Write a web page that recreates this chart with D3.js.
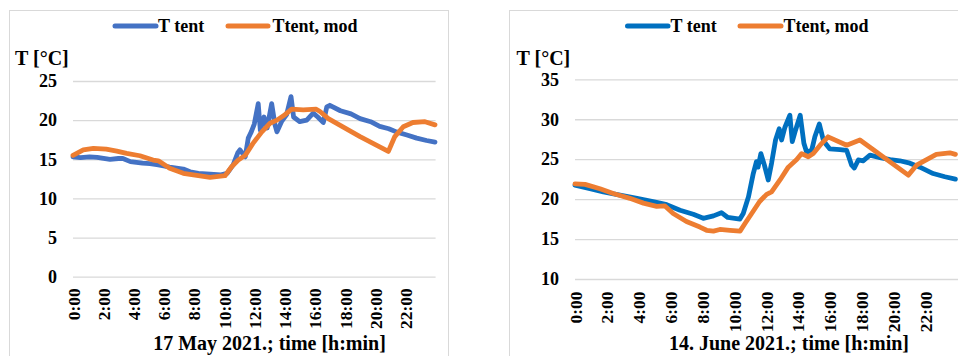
<!DOCTYPE html>
<html>
<head>
<meta charset="utf-8">
<script src="https://cdn.jsdelivr.net/npm/d3@7"></script>
<style>
  html, body { margin: 0; padding: 0; background: #ffffff; }
  svg { display: block; font-family: "Liberation Serif", "Times New Roman", serif; font-weight: bold; }
</style>
</head>
<body>
<svg id="chart" width="958" height="356"></svg>
<script>
// Time axis labels (every two hours) shared by both panels
const timeTicks = ["0:00", "2:00", "4:00", "6:00", "8:00", "10:00", "12:00", "14:00", "16:00", "18:00", "20:00", "22:00"];
const seriesNames = ["T tent", "Ttent, mod"];

// 17 May 2021 — measured tent temperature (hours, °C)
const mayTentHours = [0, 0.5, 1.1, 1.6, 2.45, 3.0, 3.3, 3.8, 4.6, 5.1, 5.55, 6.0, 6.4, 7.3, 7.75, 8.3, 9.07, 9.8, 10.2, 10.6, 10.9, 11.05, 11.4, 11.6, 11.8, 12.0, 12.26, 12.4, 12.64, 12.85, 13.15, 13.37, 13.5, 13.8, 14.14, 14.43, 14.6, 15.0, 15.47, 15.9, 16.2, 16.57, 16.8, 17.0, 17.7, 18.4, 19.0, 19.7, 20.3, 20.9, 21.4, 22.1, 22.75, 23.4, 23.96];
const mayTent = [15.3, 15.2, 15.3, 15.25, 15.0, 15.1, 15.1, 14.7, 14.5, 14.45, 14.3, 14.15, 14.0, 13.75, 13.4, 13.2, 13.1, 13.0, 13.2, 14.3, 15.8, 16.2, 15.3, 17.7, 18.5, 19.5, 22.1, 18.7, 20.4, 19.0, 22.1, 19.4, 18.5, 19.8, 20.7, 23.0, 20.4, 19.8, 20.0, 20.9, 20.4, 19.7, 21.7, 21.9, 21.2, 20.8, 20.2, 19.8, 19.2, 18.9, 18.5, 18.1, 17.7, 17.4, 17.2];

// 17 May 2021 — modelled tent temperature
const mayModHours = [0, 0.68, 1.35, 2.2, 2.9, 3.55, 4.43, 5.3, 5.65, 6.4, 7.3, 8.3, 9.07, 10.06, 10.5, 10.94, 11.4, 11.9, 12.5, 13.04, 13.5, 14.03, 14.47, 15.24, 16.1, 16.35, 16.9, 19.0, 20.87, 21.3, 21.86, 22.5, 23.3, 23.96];
const mayMod = [15.5, 16.2, 16.4, 16.3, 16.05, 15.75, 15.45, 14.9, 14.8, 13.85, 13.2, 12.9, 12.7, 12.9, 14.05, 14.9, 15.5, 17.0, 18.5, 19.6, 20.0, 20.7, 21.4, 21.3, 21.4, 21.1, 20.2, 17.9, 16.0, 17.9, 19.15, 19.7, 19.8, 19.4];

// 14 June 2021 — measured tent temperature
const junTentHours = [0, 0.94, 1.78, 2.83, 3.9, 4.9, 5.76, 6.6, 7.43, 8.06, 8.7, 9.2, 9.6, 10.36, 10.57, 10.9, 11.2, 11.4, 11.5, 11.68, 11.9, 12.14, 12.35, 12.6, 12.83, 12.98, 13.19, 13.5, 13.65, 13.85, 14.15, 14.38, 14.55, 14.87, 15.07, 15.35, 15.6, 15.8, 16.0, 16.65, 17.07, 17.38, 17.55, 17.8, 18.1, 18.53, 19.16, 19.8, 20.4, 21.04, 21.67, 22.5, 23.24, 23.9];
const junTent = [21.75, 21.3, 20.9, 20.5, 20.1, 19.7, 19.3, 18.6, 18.1, 17.6, 17.9, 18.3, 17.7, 17.5, 18.2, 20.3, 23.2, 24.7, 24.0, 25.7, 24.25, 22.4, 24.5, 27.4, 28.8, 27.4, 29.0, 30.5, 27.2, 28.6, 30.5, 27.0, 25.9, 26.1, 27.8, 29.4, 27.4, 26.8, 26.3, 26.2, 26.1, 24.25, 23.9, 24.9, 24.8, 25.5, 25.2, 24.95, 24.8, 24.5, 24.0, 23.2, 22.8, 22.5];

// 14 June 2021 — modelled tent temperature
const junModHours = [0, 0.63, 1.57, 2.4, 3.45, 4.3, 5.13, 5.65, 6.17, 7.0, 7.85, 8.27, 8.7, 9.1, 9.74, 10.37, 10.68, 11.1, 11.6, 12.04, 12.35, 12.88, 13.4, 13.93, 14.24, 14.66, 14.97, 15.4, 15.9, 17.07, 17.9, 20.94, 21.46, 22.7, 23.55, 23.9];
const junMod = [21.9, 21.85, 21.3, 20.7, 20.1, 19.5, 19.1, 19.15, 18.2, 17.2, 16.5, 16.1, 16.0, 16.2, 16.1, 16.0, 16.95, 18.2, 19.7, 20.6, 20.9, 22.4, 24.0, 24.95, 25.7, 25.3, 25.7, 26.75, 27.8, 26.75, 27.4, 23.0, 24.25, 25.6, 25.8, 25.6];

const svg = d3.select("#chart");

function toHours(label) {
  const [h, m] = label.split(":").map(Number);
  return h + m / 60;
}

function pairs(hours, values) {
  return hours.map((h, i) => ({ h: h, v: values[i] }));
}

function drawPanel(p) {
  const g = svg.append("g");

  // chart frame
  g.append("rect")
    .attr("x", p.frame[0] + 0.5).attr("y", p.frame[1] + 0.5)
    .attr("width", p.frame[2]).attr("height", p.frame[3])
    .attr("fill", "none").attr("stroke", "#d9d9d9").attr("stroke-width", 1);

  const x = d3.scaleLinear().domain([0, 24]).range([p.left, p.right]);
  const y = d3.scaleLinear().domain(p.yDomain).range([p.bottom, p.top]);

  // horizontal gridlines with value labels
  const yAxis = d3.axisLeft(y).tickValues(d3.range(p.yDomain[0], p.yDomain[1] + 1, 5))
    .tickSize(-(p.gridRight - p.left)).tickPadding(p.left - p.yLabelRight);
  const ya = g.append("g").attr("transform", `translate(${p.left},0)`).call(yAxis);
  ya.select(".domain").remove();
  ya.selectAll(".tick line").attr("stroke", "#d9d9d9").attr("stroke-width", 1.3);
  ya.selectAll(".tick text")
    .attr("font-family", "Liberation Serif, Times New Roman, serif")
    .attr("font-weight", "bold").attr("font-size", 18).attr("fill", "#000");

  // time labels, rotated
  const xAxis = d3.axisBottom(x).tickValues(timeTicks.map(toHours))
    .tickFormat((d, i) => timeTicks[i]).tickSize(0);
  const xa = g.append("g").attr("transform", `translate(0,${p.bottom})`).call(xAxis);
  xa.select(".domain").remove();
  xa.selectAll(".tick text")
    .attr("font-family", "Liberation Serif, Times New Roman, serif")
    .attr("font-weight", "bold").attr("font-size", 17.5).attr("fill", "#000")
    .attr("text-anchor", "end")
    .attr("transform", `translate(0,${p.xLabelGap}) rotate(-90)`)
    .attr("x", 0).attr("y", 0).attr("dy", "0.35em");

  // series lines
  const line = d3.line().x(d => x(d.h)).y(d => y(d.v));
  g.append("path").datum(pairs(p.tentHours, p.tent))
    .attr("d", line).attr("fill", "none").attr("stroke", p.blue)
    .attr("stroke-width", 4.8).attr("stroke-linejoin", "round").attr("stroke-linecap", "round");
  g.append("path").datum(pairs(p.modHours, p.mod))
    .attr("d", line).attr("fill", "none").attr("stroke", "#ED7D31")
    .attr("stroke-width", 4.8).attr("stroke-linejoin", "round").attr("stroke-linecap", "round");

  // axis titles
  g.append("text").attr("x", p.yTitleX).attr("y", 58).attr("dy", "0.35em")
    .attr("font-size", 20).text("T [°C]");
  g.append("text").attr("x", p.xTitleX).attr("y", 343).attr("dy", "0.35em")
    .attr("text-anchor", "middle").attr("font-size", 20).text(p.xTitle);

  // legend
  const colors = [p.blue, "#ED7D31"];
  p.legend.forEach((L, i) => {
    g.append("line").attr("x1", L[0]).attr("x2", L[1]).attr("y1", 26).attr("y2", 26)
      .attr("stroke", colors[i]).attr("stroke-width", 5).attr("stroke-linecap", "round");
    g.append("text").attr("x", L[2]).attr("y", 26).attr("dy", "0.35em")
      .attr("font-size", 18).text(seriesNames[i]);
  });
}

drawPanel({
  frame: [9, 10, 439, 360],
  left: 73, right: 435.6, gridRight: 435.6, top: 81, bottom: 276.7,
  yDomain: [0, 25], yLabelRight: 57, yTitleX: 15, xLabelGap: 11.5,
  xTitle: "17 May 2021.; time [h:min]", xTitleX: 269.5,
  blue: "#4472C4",
  tentHours: mayTentHours, tent: mayTent, modHours: mayModHours, mod: mayMod,
  legend: [[115, 156, 158], [228, 268, 272.5]]
});

drawPanel({
  frame: [509, 10, 500, 360],
  left: 575, right: 957, gridRight: 958, top: 79.3, bottom: 279,
  yDomain: [10, 35], yLabelRight: 559, yTitleX: 516.5, xLabelGap: 12.5,
  xTitle: "14. June 2021.; time [h:min]", xTitleX: 789,
  blue: "#0070C0",
  tentHours: junTentHours, tent: junTent, modHours: junModHours, mod: junMod,
  legend: [[627.5, 668, 670.5], [740, 781, 783.5]]
});
</script>
</body>
</html>
